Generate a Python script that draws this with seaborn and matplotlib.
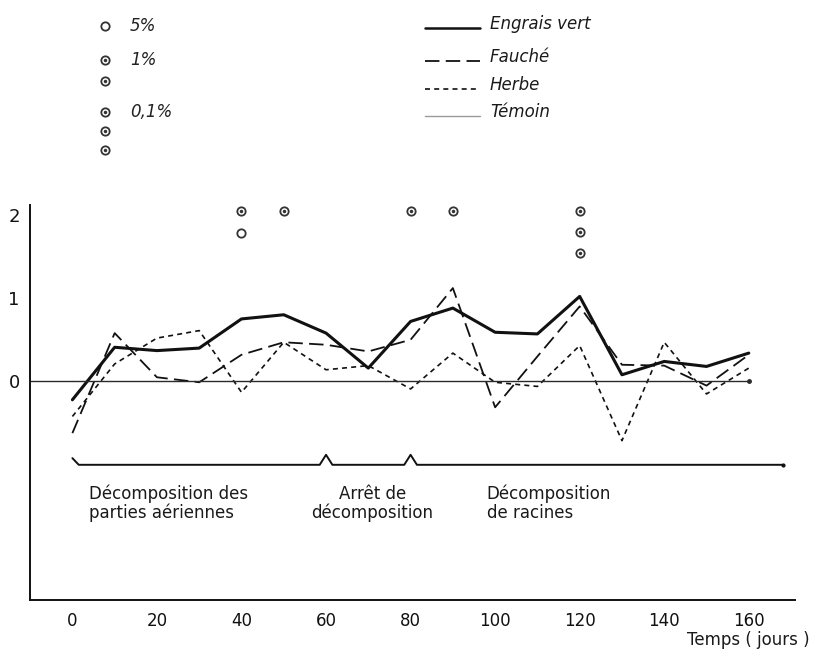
import numpy as np
import pandas as pd
import matplotlib
matplotlib.use("Agg")
import matplotlib.pyplot as plt
import seaborn as sns

# --- data ---
days = [0, 10, 20, 30, 40, 50, 60, 70, 80, 90, 100, 110, 120, 130, 140, 150, 160]
engrais_vert = [-0.22, 0.41, 0.37, 0.40, 0.75, 0.80, 0.58, 0.16, 0.72, 0.88, 0.59, 0.57, 1.02, 0.08, 0.24, 0.18, 0.34]
fauche = [-0.62, 0.58, 0.05, -0.01, 0.32, 0.47, 0.44, 0.36, 0.50, 1.12, -0.31, 0.30, 0.90, 0.20, 0.19, -0.05, 0.32]
herbe = [-0.42, 0.21, 0.52, 0.61, -0.13, 0.47, 0.14, 0.19, -0.09, 0.34, -0.01, -0.06, 0.43, -0.71, 0.47, -0.15, 0.16]
temoin = [0.0] * len(days)

# significance marks (circles above the curves)
sig_days = [40, 40, 50, 80, 90, 120, 120, 120]
sig_levels = [2.04, 1.78, 2.04, 2.04, 2.04, 2.04, 1.79, 1.54]
sig_dotted = [True, False, True, True, True, True, True, True]

# phases (brace under the curves)
phase_bounds = [0, 60, 80, 168]
phase_labels = ["Décomposition des\nparties aériennes", "Arrêt de\ndécomposition", "Décomposition\nde racines"]
phase_text_x = [4, 71, 98]
phase_align = ["left", "center", "left"]

xticks = [0, 20, 40, 60, 80, 100, 120, 140, 160]
yticks = [0, 1, 2]

series_names = ["Engrais vert", "Fauché", "Herbe", "Témoin"]

# --- build long frame ---
df = pd.DataFrame({
    "day": days * 4,
    "value": engrais_vert + fauche + herbe + temoin,
    "serie": sum([[n] * len(days) for n in series_names], []),
})

sns.set_theme(style="white")
plt.rcParams["font.family"] = ["DejaVu Sans"]

fig = plt.figure(figsize=(8.14, 6.52), dpi=100)
ax = fig.add_axes([0.037, 0.080, 0.94, 0.606])

dashes = {"Engrais vert": "", "Fauché": (8, 3.5), "Herbe": (3, 2.5), "Témoin": ""}
sizes = {"Engrais vert": 2.2, "Fauché": 1.3, "Herbe": 1.2, "Témoin": 1.0}
palette = {"Engrais vert": "#111111", "Fauché": "#111111", "Herbe": "#111111", "Témoin": "#2a2a2a"}

sns.lineplot(data=df, x="day", y="value", hue="serie", style="serie", size="serie",
             palette=palette, dashes=dashes, sizes=sizes, legend=False, ax=ax)

ax.set_xlim(-10, 171)
ax.set_ylim(-2.62, 2.12)

# control line runs back to the axis, with a dot at its end
ax.hlines(0, ax.get_xlim()[0], days[0], color="#2a2a2a", lw=1.0)
ax.plot(days[-1], temoin[-1], "o", color="#2a2a2a", ms=2.5)

# significance circles
for d, lv, dot in zip(sig_days, sig_levels, sig_dotted):
    ax.plot(d, lv, "o", ms=6, mfc="none", mec="#333333", mew=1.3, clip_on=False)
    if dot:
        ax.plot(d, lv, "o", ms=1.5, color="#333333", clip_on=False)

# brace
brace_y = -1.0
bx = [phase_bounds[0], phase_bounds[0] + 1.5]
by = [brace_y + 0.08, brace_y]
for b in phase_bounds[1:-1]:
    bx += [b - 1.5, b, b + 1.5]
    by += [brace_y, brace_y + 0.12, brace_y]
bx.append(phase_bounds[-1])
by.append(brace_y)
ax.plot(bx, by, color="#111111", lw=1.4)
ax.plot(phase_bounds[-1], brace_y, "o", color="#111111", ms=2)

for txt, xt, al in zip(phase_labels, phase_text_x, phase_align):
    ax.text(xt, -1.46, txt, ha=al, va="center", fontsize=12, color="#1a1a1a",
            linespacing=1.05, multialignment=al)

# axes styling
for s in ["top", "right"]:
    ax.spines[s].set_visible(False)
for s in ["left", "bottom"]:
    ax.spines[s].set_color("#111111")
    ax.spines[s].set_linewidth(1.4)

ax.set_xticks(xticks)
ax.set_xticklabels([str(t) for t in xticks])
ax.set_yticks(yticks)
ax.set_yticklabels([str(t) for t in yticks])
ax.tick_params(axis="x", direction="inout", length=7, width=1.1, labelsize=12, pad=5, colors="#111111")
ax.tick_params(axis="y", direction="inout", length=7, width=1.1, labelsize=13, pad=4, colors="#111111")
ax.set_xlabel("")
ax.set_ylabel("")
ax.patch.set_alpha(0)

# --- legends drawn in pixel space ---
lg = fig.add_axes([0, 0, 1, 1])
lg.set_xlim(0, 814)
lg.set_ylim(652, 0)
lg.axis("off")
lg.patch.set_alpha(0)

key_y = [26, 60, 81, 112, 131, 150]
key_dot = [False, True, True, True, True, True]
for yy, dot in zip(key_y, key_dot):
    lg.plot(105, yy, "o", ms=6, mfc="none", mec="#333333", mew=1.3)
    if dot:
        lg.plot(105, yy, "o", ms=1.5, color="#333333")
for yy, t in zip([26, 60, 112], ["5%", "1%", "0,1%"]):
    lg.text(130, yy, t, fontsize=12, style="italic", va="center", color="#222222")

leg_y = [24, 57, 85, 112]
for yy, name in zip(leg_y, series_names):
    ls = "-" if dashes[name] == "" else (0, dashes[name])
    col = "#9a9a9a" if name == "Témoin" else "#111111"
    lw = sizes[name] if name != "Engrais vert" else 1.8
    lg.plot([425, 480], [yy + 4, yy + 4], color=col, lw=lw, linestyle=ls)
    lg.text(490, yy, name, fontsize=12, style="italic", va="center", color="#1a1a1a")

lg.text(810, 640, "Temps ( jours )", fontsize=12, ha="right", va="center", color="#1a1a1a")

fig.savefig("out.png", dpi=100)
